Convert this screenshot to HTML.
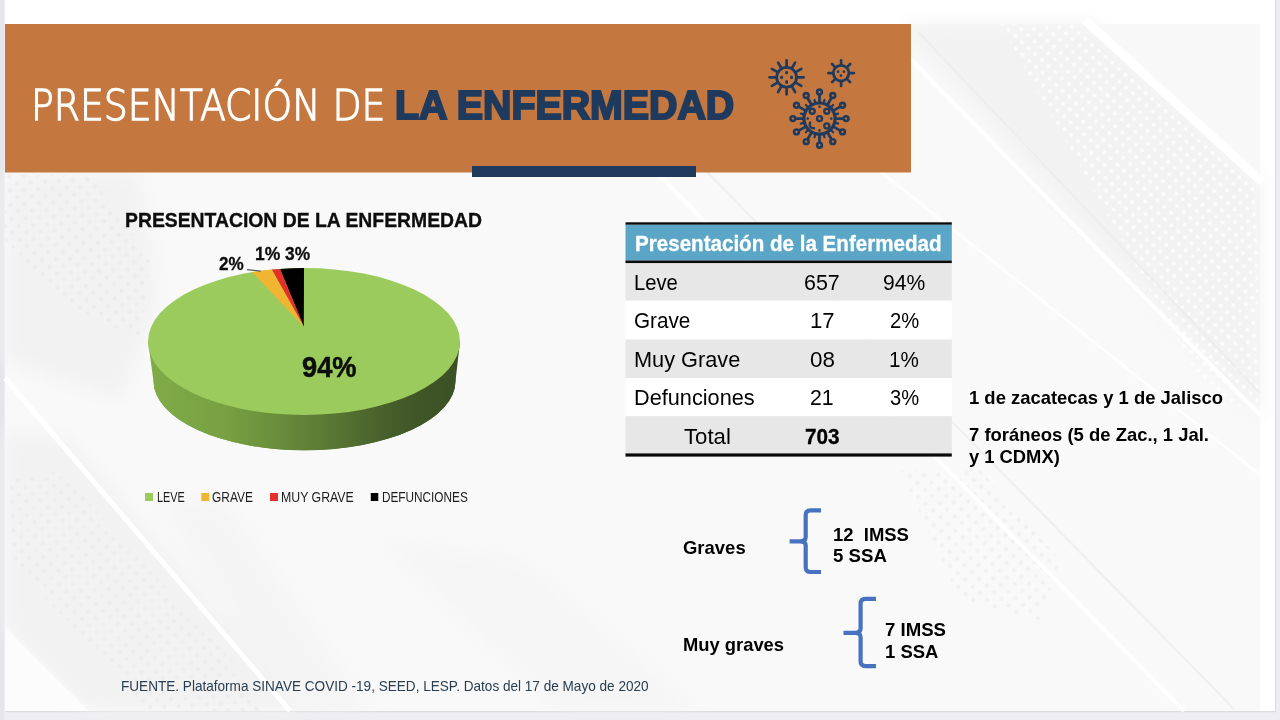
<!DOCTYPE html>
<html lang="es">
<head>
<meta charset="utf-8">
<title>Presentación de la Enfermedad</title>
<style>
  html, body { margin: 0; padding: 0; }
  body { width: 1280px; height: 720px; overflow: hidden; position: relative; background: #eeeef2; font-family: "Liberation Sans", Arial, sans-serif; }
  .t { position: absolute; white-space: pre; line-height: 1; transform-origin: 0 0; }
  svg.full { position: absolute; left: 0; top: 0; }
</style>
</head>
<body>
<svg class="full" width="1280" height="720" viewBox="0 0 1280 720">
  <defs>
    <linearGradient id="side" gradientUnits="userSpaceOnUse" x1="148" y1="0" x2="460" y2="0">
      <stop offset="0" stop-color="#80ac48"/>
      <stop offset="0.25" stop-color="#77a142"/>
      <stop offset="0.4" stop-color="#6a8f3d"/>
      <stop offset="0.55" stop-color="#5d7c36"/>
      <stop offset="0.7" stop-color="#4d682e"/>
      <stop offset="0.82" stop-color="#425929"/>
      <stop offset="1" stop-color="#3b5024"/>
    </linearGradient>
    <pattern id="dotsW" width="9" height="9" patternUnits="userSpaceOnUse" patternTransform="rotate(42)">
      <circle cx="4.5" cy="4.5" r="2" fill="#ffffff"/>
    </pattern>
    <pattern id="dotsG" width="10" height="10" patternUnits="userSpaceOnUse" patternTransform="rotate(42)">
      <circle cx="5" cy="5" r="2.2" fill="#e9e9e9"/>
    </pattern>
    <filter id="soft" x="-10%" y="-10%" width="120%" height="120%"><feGaussianBlur stdDeviation="10"/></filter>
  </defs>
  <!-- slide -->
  <rect x="0" y="0" width="4" height="720" fill="#e6e6ea"/>
  <rect x="5" y="0" width="1270" height="711" fill="#ffffff"/>
  <rect x="5" y="711" width="1271" height="1.2" fill="#dcdcdf"/>
  <rect x="1275" y="0" width="1.2" height="712" fill="#dedee1"/>
  <rect x="5" y="24" width="1255" height="687" fill="#f9f9f9"/>
  <g filter="url(#soft)" fill="#f2f2f2">
    <polygon points="5,172 140,172 160,300 120,400 5,360"/>
    <polygon points="900,24 1090,24 1260,180 1260,420"/>
    <polygon points="5,430 70,440 300,711 89,711 5,627"/>
    <polygon points="160,500 225,500 370,711 280,711" opacity="0.6"/>
    <polygon points="380,540 520,560 700,711 560,711" opacity="0.5"/>
  </g>
  <polygon points="1095,24 1260,24 1260,176" fill="#f8f8f8"/>
  <polygon points="5,627 89,711 5,711" fill="#fcfcfc"/>
  <polygon points="1000,24 1080,24 1258,190 1258,420 1200,380" fill="url(#dotsW)" opacity="0.8"/>
  <polygon points="5,175 90,175 150,260 140,340 60,300 5,240" fill="url(#dotsG)" opacity="0.7"/>
  <polygon points="10,480 60,470 250,680 260,711 150,711 10,560" fill="url(#dotsG)" opacity="0.6"/>
  <polygon points="900,470 980,470 1060,560 1040,620 960,600" fill="url(#dotsG)" opacity="0.5"/>
  <g fill="none" stroke-linecap="butt">
    <line x1="707" y1="172" x2="1234" y2="709" stroke="#ebebeb" stroke-width="2" opacity="0.7"/>
    <line x1="919" y1="32.8" x2="1260" y2="393" stroke="#ebebeb" stroke-width="2" opacity="0.7"/>
    <line x1="656" y1="172" x2="1184" y2="711" stroke="#ffffff" stroke-width="4"/>
    <line x1="876" y1="24" x2="1260" y2="415" stroke="#ffffff" stroke-width="4"/>
    <line x1="1085" y1="20" x2="1262" y2="182" stroke="#ffffff" stroke-width="9"/>
    <line x1="881" y1="172" x2="1260" y2="475" stroke="#ffffff" stroke-width="3" opacity="0.8"/>
    <line x1="5" y1="378" x2="290" y2="711" stroke="#ffffff" stroke-width="5"/>
  </g>
  <!-- banner -->
  <rect x="5" y="24" width="906" height="148.5" fill="#c4783f"/>
  <rect x="472" y="166" width="224" height="11" fill="#1f3a5c"/>
  <g stroke="#1f3a5c" stroke-width="2.7" stroke-linecap="round" fill="none">
<circle cx="786.6" cy="77.3" r="9.9" fill="none" stroke-width="2.8"/>
<line x1="786.60" y1="66.30" x2="786.60" y2="60.30"/>
<line x1="792.10" y1="67.77" x2="795.10" y2="62.58"/>
<line x1="796.13" y1="71.80" x2="801.32" y2="68.80"/>
<line x1="797.60" y1="77.30" x2="803.60" y2="77.30"/>
<line x1="796.13" y1="82.80" x2="801.32" y2="85.80"/>
<line x1="792.10" y1="86.83" x2="795.10" y2="92.02"/>
<line x1="786.60" y1="88.30" x2="786.60" y2="94.30"/>
<line x1="781.10" y1="86.83" x2="778.10" y2="92.02"/>
<line x1="777.07" y1="82.80" x2="771.88" y2="85.80"/>
<line x1="775.60" y1="77.30" x2="769.60" y2="77.30"/>
<line x1="777.07" y1="71.80" x2="771.88" y2="68.80"/>
<line x1="781.10" y1="67.77" x2="778.10" y2="62.58"/>
<ellipse cx="786.60" cy="72.60" rx="1.5" ry="1.9" fill="#1f3a5c" stroke="none"/>
<ellipse cx="781.60" cy="77.30" rx="1.5" ry="1.9" fill="#1f3a5c" stroke="none"/>
<ellipse cx="791.60" cy="77.30" rx="1.5" ry="1.9" fill="#1f3a5c" stroke="none"/>
<ellipse cx="786.60" cy="82.00" rx="1.5" ry="1.9" fill="#1f3a5c" stroke="none"/>
<circle cx="841.1" cy="73.1" r="7.8" fill="none" stroke-width="2.8"/>
<line x1="841.10" y1="64.60" x2="841.10" y2="60.30"/>
<line x1="847.11" y1="67.09" x2="850.15" y2="64.05"/>
<line x1="849.60" y1="73.10" x2="853.90" y2="73.10"/>
<line x1="847.11" y1="79.11" x2="850.15" y2="82.15"/>
<line x1="841.10" y1="81.60" x2="841.10" y2="85.90"/>
<line x1="835.09" y1="79.11" x2="832.05" y2="82.15"/>
<line x1="832.60" y1="73.10" x2="828.30" y2="73.10"/>
<line x1="835.09" y1="67.09" x2="832.05" y2="64.05"/>
<circle cx="838.10" cy="71.70" r="1.35" fill="#1f3a5c" stroke="none"/>
<circle cx="843.90" cy="71.70" r="1.35" fill="#1f3a5c" stroke="none"/>
<circle cx="840.90" cy="75.60" r="1.35" fill="#1f3a5c" stroke="none"/>
<circle cx="819.5" cy="118.6" r="15.6" fill="none" stroke-width="3.2"/>
<line x1="819.50" y1="102.10" x2="819.50" y2="95.10" stroke-width="2.8"/>
<circle cx="819.50" cy="92.00" r="2.4" fill="none" stroke-width="2.6"/>
<line x1="823.77" y1="102.66" x2="824.50" y2="99.96" stroke-width="2.2"/>
<line x1="827.75" y1="104.31" x2="831.25" y2="98.25" stroke-width="2.8"/>
<circle cx="832.80" cy="95.56" r="2.4" fill="none" stroke-width="2.6"/>
<line x1="831.17" y1="106.93" x2="833.15" y2="104.95" stroke-width="2.2"/>
<line x1="833.79" y1="110.35" x2="839.85" y2="106.85" stroke-width="2.8"/>
<circle cx="842.54" cy="105.30" r="2.4" fill="none" stroke-width="2.6"/>
<line x1="835.44" y1="114.33" x2="838.14" y2="113.60" stroke-width="2.2"/>
<line x1="836.00" y1="118.60" x2="843.00" y2="118.60" stroke-width="2.8"/>
<circle cx="846.10" cy="118.60" r="2.4" fill="none" stroke-width="2.6"/>
<line x1="835.44" y1="122.87" x2="838.14" y2="123.60" stroke-width="2.2"/>
<line x1="833.79" y1="126.85" x2="839.85" y2="130.35" stroke-width="2.8"/>
<circle cx="842.54" cy="131.90" r="2.4" fill="none" stroke-width="2.6"/>
<line x1="831.17" y1="130.27" x2="833.15" y2="132.25" stroke-width="2.2"/>
<line x1="827.75" y1="132.89" x2="831.25" y2="138.95" stroke-width="2.8"/>
<circle cx="832.80" cy="141.64" r="2.4" fill="none" stroke-width="2.6"/>
<line x1="823.77" y1="134.54" x2="824.50" y2="137.24" stroke-width="2.2"/>
<line x1="819.50" y1="135.10" x2="819.50" y2="142.10" stroke-width="2.8"/>
<circle cx="819.50" cy="145.20" r="2.4" fill="none" stroke-width="2.6"/>
<line x1="815.23" y1="134.54" x2="814.50" y2="137.24" stroke-width="2.2"/>
<line x1="811.25" y1="132.89" x2="807.75" y2="138.95" stroke-width="2.8"/>
<circle cx="806.20" cy="141.64" r="2.4" fill="none" stroke-width="2.6"/>
<line x1="807.83" y1="130.27" x2="805.85" y2="132.25" stroke-width="2.2"/>
<line x1="805.21" y1="126.85" x2="799.15" y2="130.35" stroke-width="2.8"/>
<circle cx="796.46" cy="131.90" r="2.4" fill="none" stroke-width="2.6"/>
<line x1="803.56" y1="122.87" x2="800.86" y2="123.60" stroke-width="2.2"/>
<line x1="803.00" y1="118.60" x2="796.00" y2="118.60" stroke-width="2.8"/>
<circle cx="792.90" cy="118.60" r="2.4" fill="none" stroke-width="2.6"/>
<line x1="803.56" y1="114.33" x2="800.86" y2="113.60" stroke-width="2.2"/>
<line x1="805.21" y1="110.35" x2="799.15" y2="106.85" stroke-width="2.8"/>
<circle cx="796.46" cy="105.30" r="2.4" fill="none" stroke-width="2.6"/>
<line x1="807.83" y1="106.93" x2="805.85" y2="104.95" stroke-width="2.2"/>
<line x1="811.25" y1="104.31" x2="807.75" y2="98.25" stroke-width="2.8"/>
<circle cx="806.20" cy="95.56" r="2.4" fill="none" stroke-width="2.6"/>
<line x1="815.23" y1="102.66" x2="814.50" y2="99.96" stroke-width="2.2"/>
<circle cx="812.20" cy="111.30" r="2.5" fill="none" stroke-width="2.4"/>
<circle cx="826.80" cy="111.30" r="2.5" fill="none" stroke-width="2.4"/>
<circle cx="819.50" cy="118.60" r="2.5" fill="none" stroke-width="2.4"/>
<circle cx="826.80" cy="125.90" r="2.5" fill="none" stroke-width="2.4"/>
<circle cx="819.50" cy="106.80" r="1.3" fill="#1f3a5c" stroke="none"/>
<circle cx="807.70" cy="118.60" r="1.3" fill="#1f3a5c" stroke="none"/>
<circle cx="831.30" cy="118.60" r="1.3" fill="#1f3a5c" stroke="none"/>
<circle cx="819.50" cy="130.40" r="1.3" fill="#1f3a5c" stroke="none"/>
<path d="M 810.10 122.40 Q 808.30 128.20 814.10 128.20" fill="none" stroke-width="2.4"/>
</g>
  <!-- pie -->
  <path d="M148 341.5 L153.5 381 A151 69.3 0 0 0 455.5 381 L460 341.5 Z" fill="url(#side)"/>
  <ellipse cx="304.5" cy="381" rx="151" ry="69.3" fill="url(#side)"/>
  <ellipse cx="304" cy="341.5" rx="156" ry="73.5" fill="#9ccb5d"/>
  <path d="M303.8 326.8 L304 268 A156 73.5 0 0 0 280 268.9 Z" fill="#000000"/>
  <path d="M303.8 326.8 L280 268.9 A156 73.5 0 0 0 271.7 269.6 Z" fill="#e3312a"/>
  <path d="M303.8 326.8 L271.7 269.6 A156 73.5 0 0 0 252.2 272.2 Z" fill="#f2b531"/>
  <line x1="247" y1="269.6" x2="260.7" y2="271.1" stroke="#595959" stroke-width="1.2"/>
  <!-- legend -->
  <rect x="145" y="493" width="8" height="8" fill="#9ccb5d"/>
  <rect x="201.3" y="493" width="8" height="8" fill="#f2b531"/>
  <rect x="270" y="493" width="8" height="8" fill="#e3312a"/>
  <rect x="370.8" y="493" width="7.5" height="8" fill="#000000"/>
  <!-- table -->
  <rect x="625.5" y="222.3" width="326.3" height="2.5" fill="#0a0a0a"/>
  <rect x="625.5" y="224.8" width="326.3" height="35.7" fill="#5ba6c7"/>
  <rect x="625.5" y="260.5" width="326.3" height="2.8" fill="#0a0a0a"/>
  <rect x="625.5" y="263.3" width="326.3" height="37.4" fill="#e7e7e7"/>
  <rect x="625.5" y="300.7" width="326.3" height="38.8" fill="#ffffff"/>
  <rect x="625.5" y="339.5" width="326.3" height="38.5" fill="#e7e7e7"/>
  <rect x="625.5" y="378" width="326.3" height="38.2" fill="#ffffff"/>
  <rect x="625.5" y="416.2" width="326.3" height="37.2" fill="#e7e7e7"/>
  <rect x="625.5" y="453.4" width="326.3" height="3.2" fill="#0a0a0a"/>
  <!-- braces -->
  <g fill="none" stroke="#4672c0" stroke-width="4.2" stroke-linejoin="round">
    <path d="M821 510.3 H810.5 Q805.7 510.3 805.7 515.1 V536.8 Q805.7 541.3 800.7 541.3 H789.6" />
    <path d="M800.7 541.3 Q805.7 541.3 805.7 545.8 V567.2 Q805.7 572 810.5 572 H821" />
    <path d="M876 598.9 H865.4 Q860.6 598.9 860.6 603.6999999999999 V628.3 Q860.6 632.8 855.6 632.8 H843.5" />
    <path d="M855.6 632.8 Q860.6 632.8 860.6 637.3 V661.3000000000001 Q860.6 666.1 865.4 666.1 H876" />
  </g>
</svg>
<div class="t" id="title1" style="left:30.64px;top:85.29px;font-family:'DejaVu Sans', 'Liberation Sans', sans-serif;font-size:41.92px;font-weight:200;color:#ffffff;transform:scaleX(0.9001);-webkit-text-stroke:1.3px #ffffff">PRESENTACIÓN DE</div>
<div class="t" id="title2" style="left:395.30px;top:84.71px;font-family:'Liberation Sans', sans-serif;font-size:40.58px;font-weight:700;color:#1f3a5c;transform:scaleX(0.9687);-webkit-text-stroke:2.2px #1f3a5c">LA ENFERMEDAD</div>
<div class="t" id="ctitle" style="left:124.96px;top:209.45px;font-family:'Liberation Sans', sans-serif;font-size:21.09px;font-weight:700;color:#0d0d0d;transform:scaleX(0.9182);-webkit-text-stroke:0.35px #0d0d0d">PRESENTACION DE LA ENFERMEDAD</div>
<div class="t" id="l2" style="left:218.74px;top:254.75px;font-family:'Liberation Sans', sans-serif;font-size:18.12px;font-weight:700;color:#0d0d0d;transform:scaleX(0.9439);-webkit-text-stroke:0.3px #0d0d0d">2%</div>
<div class="t" id="l1" style="left:255.27px;top:245.00px;font-family:'Liberation Sans', sans-serif;font-size:18.41px;font-weight:700;color:#0d0d0d;transform:scaleX(0.9527);-webkit-text-stroke:0.3px #0d0d0d">1%</div>
<div class="t" id="l3" style="left:284.98px;top:245.00px;font-family:'Liberation Sans', sans-serif;font-size:18.41px;font-weight:700;color:#0d0d0d;transform:scaleX(0.9404);-webkit-text-stroke:0.3px #0d0d0d">3%</div>
<div class="t" id="l94" style="left:302.15px;top:351.94px;font-family:'Liberation Sans', sans-serif;font-size:29.42px;font-weight:700;color:#0d0d0d;transform:scaleX(0.9270);-webkit-text-stroke:0.5px #0d0d0d">94%</div>
<div class="t" id="lg1" style="left:156.84px;top:490.98px;font-family:'Liberation Sans', sans-serif;font-size:13.9px;font-weight:400;color:#1e1e1e;transform:scaleX(0.7832)">LEVE</div>
<div class="t" id="lg2" style="left:212.42px;top:490.93px;font-family:'Liberation Sans', sans-serif;font-size:13.9px;font-weight:400;color:#1e1e1e;transform:scaleX(0.8600)">GRAVE</div>
<div class="t" id="lg3" style="left:281.38px;top:490.92px;font-family:'Liberation Sans', sans-serif;font-size:13.9px;font-weight:400;color:#1e1e1e;transform:scaleX(0.8869)">MUY GRAVE</div>
<div class="t" id="lg4" style="left:381.60px;top:490.92px;font-family:'Liberation Sans', sans-serif;font-size:13.9px;font-weight:400;color:#1e1e1e;transform:scaleX(0.8483)">DEFUNCIONES</div>
<div class="t" id="th" style="left:634.83px;top:233.42px;font-family:'Liberation Sans', sans-serif;font-size:21.74px;font-weight:700;color:#ffffff;transform:scaleX(0.9470);-webkit-text-stroke:0.3px #ffffff">Presentación de la Enfermedad</div>
<div class="t" id="r1" style="left:634.14px;top:271.88px;font-family:'Liberation Sans', sans-serif;font-size:21.8px;font-weight:400;color:#000000;transform:scaleX(0.9271)">Leve</div>
<div class="t" id="r2" style="left:634.41px;top:310.48px;font-family:'Liberation Sans', sans-serif;font-size:21.8px;font-weight:400;color:#000000;transform:scaleX(0.9486)">Grave</div>
<div class="t" id="r3" style="left:634.15px;top:348.69px;font-family:'Liberation Sans', sans-serif;font-size:21.8px;font-weight:400;color:#000000;transform:scaleX(0.9966)">Muy Grave</div>
<div class="t" id="r4" style="left:634.15px;top:387.08px;font-family:'Liberation Sans', sans-serif;font-size:21.8px;font-weight:400;color:#000000;transform:scaleX(0.9956)">Defunciones</div>
<div class="t" id="r5" style="left:684.08px;top:426.48px;font-family:'Liberation Sans', sans-serif;font-size:21.8px;font-weight:400;color:#000000;transform:scaleX(1.0177)">Total</div>
<div class="t" id="n1" style="left:804.46px;top:271.87px;font-family:'Liberation Sans', sans-serif;font-size:21.8px;font-weight:400;color:#000000;transform:scaleX(0.9837)">657</div>
<div class="t" id="p1" style="left:883.03px;top:271.88px;font-family:'Liberation Sans', sans-serif;font-size:21.8px;font-weight:400;color:#000000;transform:scaleX(0.9680)">94%</div>
<div class="t" id="n2" style="left:809.61px;top:310.09px;font-family:'Liberation Sans', sans-serif;font-size:21.8px;font-weight:400;color:#000000;transform:scaleX(1.0155)">17</div>
<div class="t" id="p2" style="left:889.87px;top:310.08px;font-family:'Liberation Sans', sans-serif;font-size:21.8px;font-weight:400;color:#000000;transform:scaleX(0.9264)">2%</div>
<div class="t" id="n3" style="left:810.25px;top:348.67px;font-family:'Liberation Sans', sans-serif;font-size:21.8px;font-weight:400;color:#000000;transform:scaleX(1.0276)">08</div>
<div class="t" id="p3" style="left:889.30px;top:348.68px;font-family:'Liberation Sans', sans-serif;font-size:21.8px;font-weight:400;color:#000000;transform:scaleX(0.9455)">1%</div>
<div class="t" id="n4" style="left:810.17px;top:387.08px;font-family:'Liberation Sans', sans-serif;font-size:21.8px;font-weight:400;color:#000000;transform:scaleX(0.9762)">21</div>
<div class="t" id="p4" style="left:889.94px;top:387.08px;font-family:'Liberation Sans', sans-serif;font-size:21.8px;font-weight:400;color:#000000;transform:scaleX(0.9241)">3%</div>
<div class="t" id="n5" style="left:805.36px;top:426.15px;font-family:'Liberation Sans', sans-serif;font-size:21.8px;font-weight:700;color:#000000;transform:scaleX(0.9510);-webkit-text-stroke:0.3px #000000">703</div>
<div class="t" id="a1" style="left:968.89px;top:388.05px;font-family:'Liberation Sans', sans-serif;font-size:19.0px;font-weight:700;color:#000000;transform:scaleX(0.9700)">1 de zacatecas y 1 de Jalisco</div>
<div class="t" id="a2" style="left:969.12px;top:425.45px;font-family:'Liberation Sans', sans-serif;font-size:19.0px;font-weight:700;color:#000000;transform:scaleX(0.9712)">7 foráneos (5 de Zac., 1 Jal.</div>
<div class="t" id="a3" style="left:969.07px;top:447.25px;font-family:'Liberation Sans', sans-serif;font-size:19.0px;font-weight:700;color:#000000;transform:scaleX(0.9657)">y 1 CDMX)</div>
<div class="t" id="g1" style="left:682.54px;top:537.65px;font-family:'Liberation Sans', sans-serif;font-size:19.0px;font-weight:700;color:#000000;transform:scaleX(0.9723)">Graves</div>
<div class="t" id="g2" style="left:833.09px;top:524.85px;font-family:'Liberation Sans', sans-serif;font-size:19.0px;font-weight:700;color:#000000;transform:scaleX(0.9716)">12  IMSS</div>
<div class="t" id="g3" style="left:833.48px;top:546.25px;font-family:'Liberation Sans', sans-serif;font-size:19.0px;font-weight:700;color:#000000;transform:scaleX(0.9808)">5 SSA</div>
<div class="t" id="m1" style="left:682.80px;top:634.65px;font-family:'Liberation Sans', sans-serif;font-size:19.0px;font-weight:700;color:#000000;transform:scaleX(0.9665)">Muy graves</div>
<div class="t" id="m2" style="left:884.92px;top:619.85px;font-family:'Liberation Sans', sans-serif;font-size:19.0px;font-weight:700;color:#000000;transform:scaleX(0.9792)">7 IMSS</div>
<div class="t" id="m3" style="left:885.09px;top:641.65px;font-family:'Liberation Sans', sans-serif;font-size:19.0px;font-weight:700;color:#000000;transform:scaleX(0.9722)">1 SSA</div>
<div class="t" id="foot" style="left:120.50px;top:679.07px;font-family:'Liberation Sans', sans-serif;font-size:14.2px;font-weight:400;color:#283e52;transform:scaleX(0.9567)">FUENTE. Plataforma SINAVE COVID -19, SEED, LESP. Datos del 17 de Mayo de 2020</div>
</body>
</html>
